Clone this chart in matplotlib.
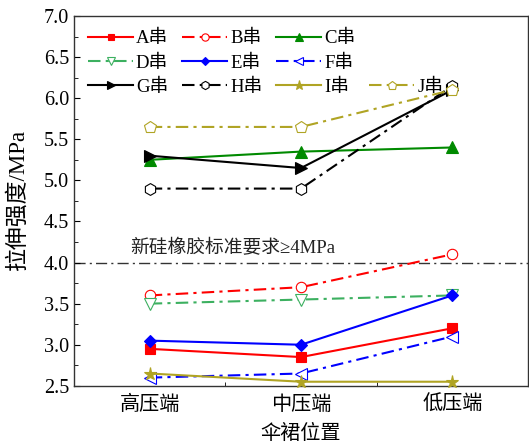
import matplotlib.pyplot as plt
from matplotlib.lines import Line2D

plt.rcParams['font.family'] = ['Liberation Serif', 'Noto Sans CJK SC', 'DejaVu Sans']

positions = ['高压端', '中压端', '低压端']
names = ['A串', 'B串', 'C串', 'D串', 'E串', 'F串', 'G串', 'H串', 'I串', 'J串']

a_vals = [2.95, 2.85, 3.20]
b_vals = [3.60, 3.70, 4.10]
c_vals = [5.25, 5.35, 5.40]
d_vals = [3.50, 3.55, 3.60]
e_vals = [3.05, 3.00, 3.60]
f_vals = [2.60, 2.65, 3.10]
g_vals = [5.30, 5.15, 6.10]
h_vals = [4.90, 4.90, 6.15]
i_vals = [2.65, 2.55, 2.55]
j_vals = [5.65, 5.65, 6.10]
standard = 4.0

dashdot = (0, (6, 2.5, 1.5, 2.5))
olive = '#b0a424'
styles = [
    dict(color='red', ls='-', marker='s', mfc='red', ms=7),
    dict(color='red', ls=dashdot, marker='o', mfc='white', ms=7.5),
    dict(color='#008a00', ls='-', marker='^', mfc='#008a00', ms=8),
    dict(color='#3cb060', ls=dashdot, marker='v', mfc='white', ms=8),
    dict(color='blue', ls='-', marker='D', mfc='blue', ms=6.5),
    dict(color='blue', ls=dashdot, marker='<', mfc='white', ms=8),
    dict(color='black', ls='-', marker='>', mfc='black', ms=8),
    dict(color='black', ls=dashdot, marker='h', mfc='white', ms=8.5),
    dict(color=olive, ls='-', marker='*', mfc=olive, ms=9.5),
    dict(color=olive, ls=dashdot, marker='p', mfc='white', ms=9),
]
series = [a_vals, b_vals, c_vals, d_vals, e_vals, f_vals, g_vals, h_vals, i_vals, j_vals]

fig = plt.figure(figsize=(5.29, 4.44), dpi=100)
ax = fig.add_axes([0.140, 0.131, 0.858, 0.833])

x = [1, 2, 3]
handles = []
for vals, name, st in zip(series, names, styles):
    line, = ax.plot(x, vals, color=st['color'], ls=st['ls'], lw=1.5,
                    marker=st['marker'], ms=st['ms'], mfc=st['mfc'], mec=st['color'],
                    mew=0.8, label=name, clip_on=False, zorder=3)
    handles.append(line)

ax.axhline(standard, color='#333333', lw=1.0, ls=(0, (8, 3, 1.5, 3)), zorder=1)
ax.text(0.87, standard + 0.06, '新硅橡胶标准要求≥4MPa', fontsize=13.5, color='#222222',
        va='bottom', ha='left')

ax.set_xlim(0.5, 3.5)
ax.set_ylim(2.5, 7.0)
ax.set_xticks(x)
ax.set_xticklabels(positions)
ax.set_xticks([1.5, 2.5], minor=True)
ax.set_yticks([2.5, 3.0, 3.5, 4.0, 4.5, 5.0, 5.5, 6.0, 6.5, 7.0])
ax.set_yticks([2.75, 3.25, 3.75, 4.25, 4.75, 5.25, 5.75, 6.25, 6.75], minor=True)
ax.yaxis.set_major_formatter(plt.FormatStrFormatter('%.1f'))
ax.tick_params(which='both', direction='in', labelsize=14.5)
ax.tick_params(which='major', length=4)
ax.tick_params(which='minor', length=3)
ax.tick_params(axis='x', which='major', length=0, pad=7)
for s in ax.spines.values():
    s.set_linewidth(1.0)
    s.set_color('#333333')

ax.set_xlabel('伞裙位置', fontsize=14.5, labelpad=7)
ax.set_ylabel('拉伸强度/MPa', fontsize=16.5, labelpad=11)

# legend laid out row by row: A B C / D E F / G H I J
blank = Line2D([], [], ls='none', marker=None)
order = [handles[0], handles[3], handles[6],
         handles[1], handles[4], handles[7],
         handles[2], handles[5], handles[8],
         blank, blank, handles[9]]
labels = [h.get_label() if h is not blank else '' for h in order]
leg = ax.legend(order, labels, ncol=4, loc='upper left', bbox_to_anchor=(0.0, 1.0),
                fontsize=13.5, frameon=False, handlelength=2.4, handletextpad=0.15,
                columnspacing=0.75, labelspacing=0.38, markerscale=0.7,
                borderaxespad=0.35)

fig.savefig('out.png', dpi=100)
